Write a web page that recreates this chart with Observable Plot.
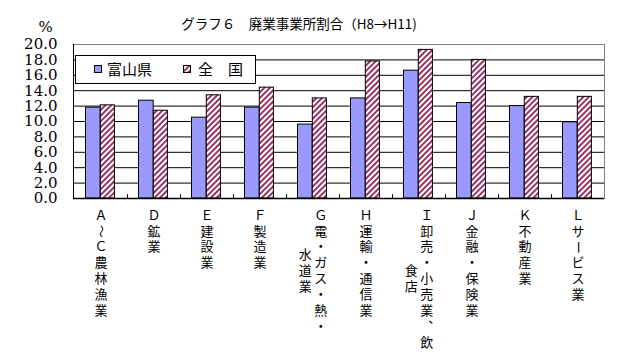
<!DOCTYPE html>
<html>
<head>
<meta charset="utf-8">
<script src="https://cdn.jsdelivr.net/npm/d3@7"></script>
<script src="https://cdn.jsdelivr.net/npm/@observablehq/plot@0.6"></script>
<style>
  html, body { margin: 0; padding: 0; background: #fff; }
  #wrap { position: relative; width: 623px; height: 360px; font-family: "Noto Sans CJK JP", sans-serif; }
  #legend { position: absolute; left: 75px; top: 55px; width: 179px; height: 27px; border: 1px solid #000; background: #fff; }
  #legend .sw { position: absolute; top: 9px; width: 8px; height: 8px; }
  #legend .lb { position: absolute; top: 2px; font-size: 15px; line-height: 22px; color: #000; }
</style>
</head>
<body>
<div id="wrap"></div>
<script>
// ---- data ----
const categories = ["A", "D", "E", "F", "G", "H", "I", "J", "K", "L"];
const labelLines = [
  ["Ａ～Ｃ農林漁業"],
  ["Ｄ鉱業"],
  ["Ｅ建設業"],
  ["Ｆ製造業"],
  ["Ｇ電・ガス・熱・", "水道業"],
  ["Ｈ運輸・通信業"],
  ["Ｉ卸売・小売業、飲", "食店"],
  ["Ｊ金融・保険業"],
  ["Ｋ不動産業"],
  ["Ｌサービス業"]
];
const seriesNames = ["富山県", "全　国"];
const toyama  = [11.8, 12.7, 10.5, 11.8, 9.6, 13.0, 16.6, 12.4, 12.0, 9.9];
const zenkoku = [12.1, 11.4, 13.4, 14.4, 13.0, 17.8, 19.3, 18.0, 13.2, 13.2];
const yTicks = [0, 2, 4, 6, 8, 10, 12, 14, 16, 18, 20];
const gridTicks = [2, 4, 6, 8, 10, 12, 14, 16, 18];
const titleText = "グラフ６　廃業事業所割合（H8→H11)";

// ---- tables ----
const rowsT = categories.map((c, i) => ({cat: c, value: toyama[i]}));
const rowsZ = categories.map((c, i) => ({cat: c, value: zenkoku[i]}));

const W = 623, H = 360, mL = 73, mR = 19, mT = 44, mB = 162;
const bw = (W - mL - mR) / categories.length;
const charStep = 15.9;

// vertical writing: one glyph per row, rotated where the vertical form turns
const rotated = new Set(["～", "ー"]);
const vertForm = {"、": "︑"};
const charRows = [];
categories.forEach((c, i) => {
  const lines = labelLines[i];
  const L = Math.max(...lines.map(s => [...s].length));
  lines.forEach((s, j) => {
    const chars = [...s];
    const n = chars.length;
    chars.forEach((ch, k) => {
      charRows.push({
        cat: c,
        ch: vertForm[ch] || ch,
        rot: rotated.has(ch) ? 90 : 0,
        dx: ((lines.length - 1) / 2 - j) * 15.5,
        dy: 17 + ((L - n) / 2 + k) * charStep
      });
    });
  });
});

const xLabelMarks = charRows.map(r =>
  Plot.text([r], {x: "cat", y: () => 0, text: "ch", dx: r.dx, dy: r.dy, rotate: r.rot,
    fontSize: 13, fill: "#000", fontFamily: "Noto Sans CJK JP"})
);

const chart = Plot.plot({
  width: W, height: H,
  marginLeft: mL, marginRight: mR, marginTop: mT, marginBottom: mB,
  style: {background: "#fff", color: "#000", overflow: "visible"},
  x: {domain: categories, padding: 0, axis: null},
  y: {domain: [0, 20], axis: null},
  marks: [
    Plot.frame({stroke: "#808080"}),
    Plot.ruleY(gridTicks, {stroke: "#000", strokeWidth: 1}),
    Plot.barY(rowsT, {x: "cat", y: "value", fill: "#9999FF", stroke: "#000", strokeWidth: 1,
      insetLeft: 11.5, insetRight: bw - 26.3}),
    Plot.barY(rowsZ, {x: "cat", y: "value", fill: "url(#hatch)", stroke: "#000", strokeWidth: 1,
      insetLeft: 26.3, insetRight: 12.6}),
    Plot.ruleY([0], {stroke: "#000", strokeWidth: 1.5}),
    Plot.frame({anchor: "left", stroke: "#000"}),
    Plot.ruleX(categories.slice(0, -1), {x: d => d, dx: bw / 2, y1: 0, y2: 0.5, stroke: "#000"}),
    Plot.axisY({ticks: yTicks, tickFormat: d3.format(".1f"), tickSize: 0, tickPadding: 16,
      fontSize: 15, fontFamily: "DejaVu Serif", label: null}),
    Plot.text(["%"], {frameAnchor: "top-left", dx: -35, dy: -23, fontSize: 15,
      fontFamily: "DejaVu Serif", fill: "#000"}),
    Plot.text([titleText], {frameAnchor: "top", dx: -40, dy: -25, fontSize: 13.5,
      fontFamily: "Noto Sans CJK JP", fill: "#000"}),
    ...xLabelMarks
  ]
});

// hatch pattern
const ns = "http://www.w3.org/2000/svg";
const defs = document.createElementNS(ns, "defs");
defs.innerHTML = `<pattern id="hatch" patternUnits="userSpaceOnUse" width="4" height="4" patternTransform="rotate(45)">
  <rect width="4" height="4" fill="#fff"/>
  <rect x="0" y="0" width="2" height="4" fill="#993366"/>
</pattern>
<pattern id="hatch2" patternUnits="userSpaceOnUse" width="4" height="4" patternTransform="rotate(45)">
  <rect width="4" height="4" fill="#fff"/>
  <rect x="0" y="0" width="2" height="4" fill="#993366"/>
</pattern>`;
chart.insertBefore(defs, chart.firstChild);

const wrap = document.getElementById("wrap");
wrap.appendChild(chart);

// legend
const legend = document.createElement("div");
legend.id = "legend";
legend.innerHTML = `
  <svg class="sw" style="left:18px" width="8" height="8"><rect x="0.5" y="0.5" width="7" height="7" fill="#9999FF" stroke="#000"/></svg>
  <span class="lb" style="left:31px">${seriesNames[0]}</span>
  <svg class="sw" style="left:107px" width="8" height="8"><rect x="0.5" y="0.5" width="7" height="7" fill="url(#hatch2)" stroke="#000"/></svg>
  <span class="lb" style="left:122px">${seriesNames[1]}</span>`;
wrap.appendChild(legend);
</script>
</body>
</html>
